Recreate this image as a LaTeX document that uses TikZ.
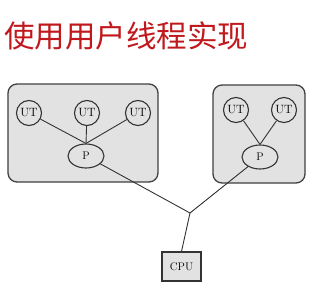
\documentclass[tikz,border=0pt]{standalone}
\usepackage{fontspec}
\newfontfamily\cjk{Noto Sans CJK SC}
\usetikzlibrary{positioning,shapes}
\definecolor{titlered}{HTML}{C0181C}
\definecolor{shade}{HTML}{E2E2E2}
\begin{document}
\begin{tikzpicture}[x=1pt, y=-1pt,
                    group/.style={draw=black!75, fill=shade, rounded corners=9pt, line width=1.3pt, inner sep=0pt},
                    ut/.style={circle, draw=black!80, fill=shade, line width=1.1pt, minimum size=25pt, inner sep=0pt, font=\fontsize{12}{12}\selectfont},
                    proc/.style={ellipse, draw=black!80, fill=shade, line width=1.1pt, minimum width=36pt, minimum height=24pt, inner sep=0pt, font=\fontsize{11}{11}\selectfont},
                    link/.style={draw=black!80, line width=0.9pt}]
    \useasboundingbox (0,0) rectangle (333,284);
    \node[anchor=west, inner sep=0pt, text=titlered, font=\cjk\fontsize{30.5}{30.5}\selectfont] (title) at (4,36) {使用用户线程实现};

    % Process boxes
    \node[group, minimum width=150pt, minimum height=98pt] (g1) at (83,133) {};
    \node[group, minimum width=92pt, minimum height=98pt] (g2) at (259,134) {};

    % User threads, left process
    \node[ut] (u1) at (29,113) {UT};
    \node[ut] (u2) at (87,113) {UT};
    \node[ut] (u3) at (138,113) {UT};
    \node[proc] (p1) at (86,156) {P};

    % User threads, right process
    \node[ut] (u4) at (236,110) {UT};
    \node[ut] (u5) at (284,110) {UT};
    \node[proc] (p2) at (260,157) {P};

    % CPU
    \node[draw=black!80, fill=shade, line width=1.1pt, minimum width=39pt, minimum height=29pt, inner sep=0pt, font=\fontsize{11}{11}\selectfont] (cpu) at (181.5,266.5) {CPU};
    \coordinate (j) at (190,213);

    % Links
    \draw[link] (u1) -- (p1.north);
    \draw[link] (u2) -- (p1.north);
    \draw[link] (u3) -- (p1.north);
    \draw[link] (u4) -- (p2.north);
    \draw[link] (u5) -- (p2.north);
    \draw[link] (p1) -- (j);
    \draw[link] (p2) -- (j);
    \draw[link] (j) -- (cpu.north);
\end{tikzpicture}
\end{document}
